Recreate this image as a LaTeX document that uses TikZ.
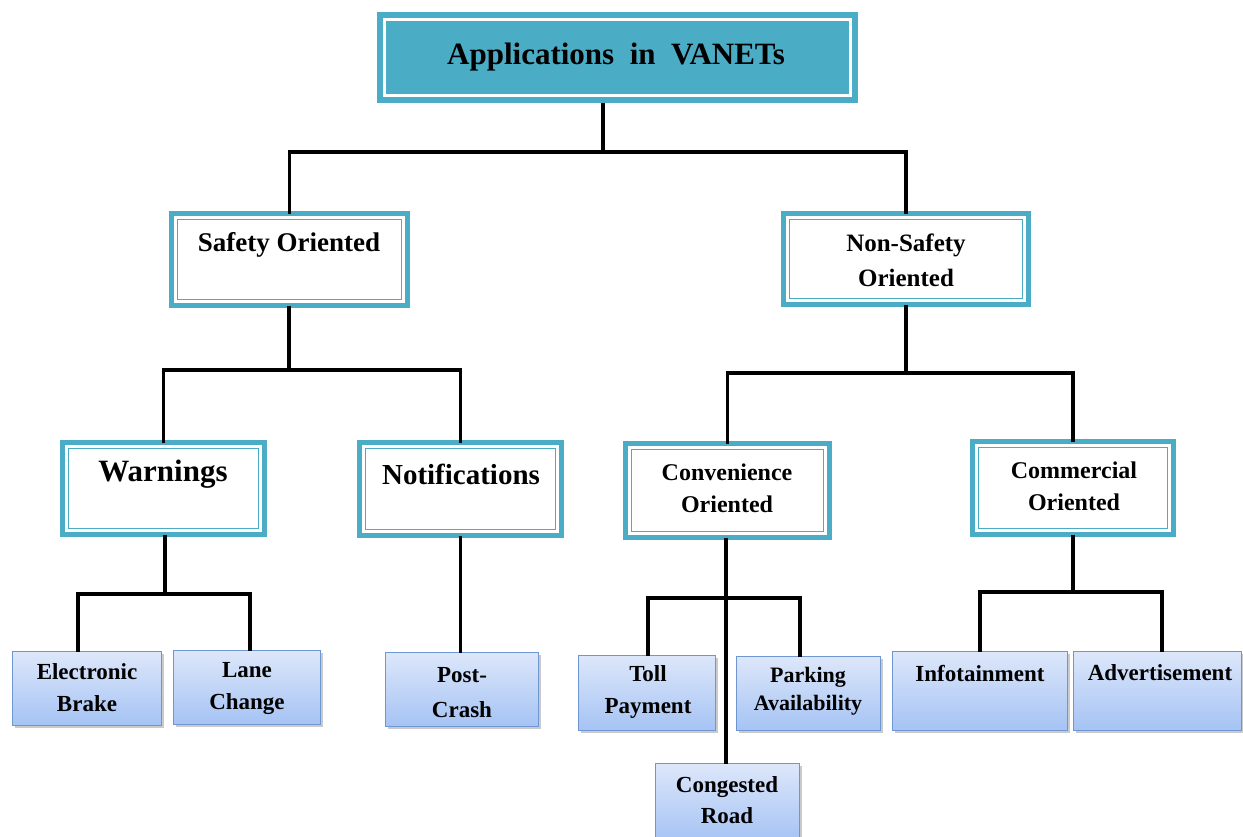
\documentclass[tikz,border=0pt]{standalone}
\usepackage{fontspec}
\setmainfont{Liberation Serif}
\usetikzlibrary{shadows}

\definecolor{accent}{HTML}{4BACC6}
\definecolor{leaftop}{HTML}{DDE7FA}
\definecolor{leafbot}{HTML}{A5C3F4}
\definecolor{leafedge}{HTML}{6E96D1}

\tikzset{
  x=1pt, y=-1pt,
  titlebox/.style={fill=accent, draw=none, inner sep=0pt, outer sep=0pt},
  framebox/.style={draw=accent, line width=5pt, fill=white, inner sep=0pt, outer sep=0pt},
  innerline/.style={draw=accent, line width=1.8pt},
  leafbox/.style={draw=leafedge, line width=1.2pt, top color=leaftop, bottom color=leafbot,
    inner sep=0pt, outer sep=0pt,
    drop shadow={shadow xshift=2.5pt, shadow yshift=-2.5pt, opacity=0.35, fill=black!60}},
  txt/.style={font=\bfseries, align=center, inner sep=0pt},
  link/.style={line width=3.6pt, black},
}

% box of given style between pixel corners (x1,y1) and (x2,y2), border line inside the corners
\newcommand\placebox[7]{% style, name, x1, y1, x2, y2, line width
  \node[#1, minimum width={(#5-#3)*1pt-#7pt}, minimum height={(#6-#4)*1pt-#7pt}]
    (#2) at ({(#3+#5)/2},{(#4+#6)/2}) {};}
\newcommand\innerframe[2]{% node name, inset from the border line
  \draw[innerline] ([shift={(#2pt,-#2pt)}]#1.north west) rectangle ([shift={(-#2pt,#2pt)}]#1.south east);}

\begin{document}
\begin{tikzpicture}
\useasboundingbox (0,0) rectangle (1243,836);

% ---- root
\placebox{titlebox}{root}{377}{12}{858}{103}{0}
\draw[white, line width=2.4pt] ([shift={(7.5pt,-7.5pt)}]root.north west) rectangle ([shift={(-7.5pt,7.5pt)}]root.south east);
\node[txt, font=\bfseries\fontsize{31}{34}\selectfont] (root-t) at (616,57) {Applications\ \ in\ \ VANETs};

% ---- second level
\placebox{framebox}{safe}{169}{211}{410}{308}{5}
\innerframe{safe}{6}
\node[txt, font=\bfseries\fontsize{27}{30}\selectfont] (safe-t) at (289,245) {Safety Oriented};

\placebox{framebox}{nons}{781}{211}{1031}{307}{5}
\innerframe{nons}{6}
\node[txt, font=\bfseries\fontsize{25}{35}\selectfont] (nons-t) at (906,260) {Non-Safety\\Oriented};

% ---- third level
\placebox{framebox}{warn}{60}{440}{267}{537}{5}
\innerframe{warn}{6}
\node[txt, font=\bfseries\fontsize{31}{34}\selectfont] (warn-t) at (163,474) {Warnings};

\placebox{framebox}{noti}{357}{440}{564}{538}{5}
\innerframe{noti}{6}
\node[txt, font=\bfseries\fontsize{29}{32}\selectfont] (noti-t) at (461,474) {Notifications};

\placebox{framebox}{conv}{623}{441}{832}{540}{5}
\innerframe{conv}{6}
\node[txt, font=\bfseries\fontsize{24}{32}\selectfont] (conv-t) at (727,488) {Convenience\\Oriented};

\placebox{framebox}{comm}{970}{439}{1176}{537}{5}
\innerframe{comm}{6}
\node[txt, font=\bfseries\fontsize{24}{32}\selectfont] (comm-t) at (1074,486) {Commercial\\Oriented};

% ---- leaves
\placebox{leafbox}{ebrk}{12}{651}{162}{726}{1.2}
\node[txt, font=\bfseries\fontsize{23}{32}\selectfont] (ebrk-t) at (87,688) {Electronic\\Brake};

\placebox{leafbox}{lane}{173}{650}{321}{725}{1.2}
\node[txt, font=\bfseries\fontsize{23}{32}\selectfont] (lane-t) at (247,688) {Lane\\Change};

\placebox{leafbox}{post}{385}{652}{539}{727}{1.2}
\node[txt, font=\bfseries\fontsize{23}{35}\selectfont] (post-t) at (462,693) {Post-\\Crash};

\placebox{leafbox}{toll}{578}{655}{716}{731}{1.2}
\node[txt, font=\bfseries\fontsize{23}{32}\selectfont] (toll-t) at (648,692) {Toll\\Payment};

\placebox{leafbox}{park}{736}{656}{881}{731}{1.2}
\node[txt, font=\bfseries\fontsize{22}{28}\selectfont] (park-t) at (808,691) {Parking\\Availability};

\placebox{leafbox}{cong}{655}{763}{800}{842}{1.2}
\node[txt, font=\bfseries\fontsize{23}{31}\selectfont] (cong-t) at (727,800) {Congested\\Road};

\placebox{leafbox}{info}{892}{651}{1068}{731}{1.2}
\node[txt, font=\bfseries\fontsize{23}{26}\selectfont] (info-t) at (980,674) {Infotainment};

\placebox{leafbox}{advt}{1073}{651}{1242}{731}{1.2}
\node[txt, font=\bfseries\fontsize{23}{26}\selectfont] (advt-t) at (1160,673) {Advertisement};

% ---- junction points of the tree
\coordinate (j0) at (603,152);
\coordinate (j1) at (289,370);
\coordinate (j2) at (906,373);
\coordinate (j3) at (165,594);
\coordinate (j4) at (726,598);
\coordinate (j5) at (1073,592);
\coordinate (d-ebrk) at (78,594);
\coordinate (d-lane) at (250,594);
\coordinate (d-toll) at (648,598);
\coordinate (d-park) at (800,598);
\coordinate (d-adv) at (1162,592);
\coordinate (d-inf) at (980,592);

% ---- connectors
\draw[link] (j0 |- root.south) -- (j0);
\draw[link] (safe.north) |- (j0) -| (nons.north);

\draw[link] (j1 |- safe.south) -- (j1);
\draw[link] (warn.north) |- (j1) -| (noti.north);

\draw[link] (j2 |- nons.south) -- (j2);
\draw[link] (conv.north) |- (j2) -| (comm.north);

\draw[link] (j3 |- warn.south) -- (j3);
\draw[link] (d-ebrk |- ebrk.north) -- (d-ebrk) -- (d-lane) -- (d-lane |- lane.north);

\draw[link] (noti.south) -- (noti.south |- post.north);

\draw[link] (j4 |- conv.south) -- (j4 |- cong.north);
\draw[link] (d-toll |- toll.north) -- (d-toll) -- (d-park) -- (d-park |- park.north);

\draw[link] (j5 |- comm.south) -- (j5);
\draw[link] (d-inf |- info.north) -- (d-inf) -- (d-adv) -- (d-adv |- advt.north);
\end{tikzpicture}
\end{document}
